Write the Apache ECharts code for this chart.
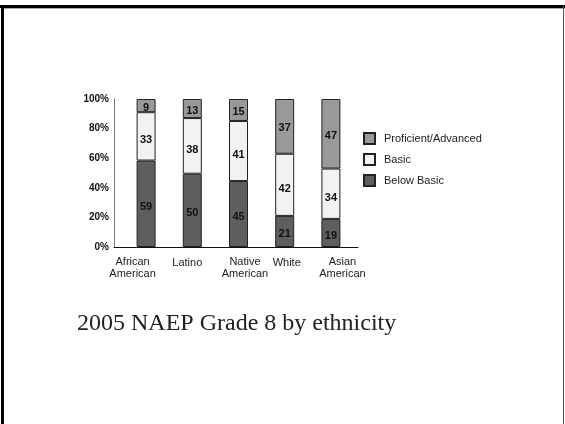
<!DOCTYPE html>
<html>
<head>
<meta charset="utf-8">
<script src="https://cdn.jsdelivr.net/npm/echarts@6/dist/echarts.min.js"></script>
<style>html,body{margin:0;padding:0;background:#fff}#c{width:565px;height:424px}</style>
</head>
<body>
<div id="c"></div>
<script>
var categories = ['African\nAmerican', 'Latino', 'Native\nAmerican', 'White', 'Asian\nAmerican'];
var belowBasic = [59, 50, 45, 21, 19];
var basic = [33, 38, 41, 42, 34];
var proficient = [9, 13, 15, 37, 47];
var yTicks = [0, 20, 40, 60, 80, 100];
var titleText = '2005 NAEP Grade 8 by ethnicity';

var totals = categories.map(function (c, i) { return belowBasic[i] + basic[i] + proficient[i]; });
function norm(arr) { return arr.map(function (v, i) { return v / totals[i] * 100; }); }

var labelShift = [[0, 27, 0, 0], [2, 10, 0, 0], [0, 0, 0, 13], [2, 0, 0, 4], [0, 0, 0, 23]];
var rich = {};
labelShift.forEach(function (p, i) {
  rich['s' + i] = { padding: p, fontSize: 11, lineHeight: 12, color: '#222', fontFamily: 'Liberation Sans, Arial, sans-serif' };
});

function segLabel(raw, dy) {
  return {
    show: true, position: 'inside', offset: [0, dy], color: '#111', fontWeight: 'bold', fontSize: 11,
    fontFamily: 'Liberation Sans, Arial, sans-serif',
    formatter: function (p) { return raw[p.dataIndex]; }
  };
}

var chart = echarts.init(document.getElementById('c'), null, { renderer: 'canvas' });
chart.setOption({
  animation: false,
  backgroundColor: '#fff',
  grid: [
    { left: 123, right: 211, top: 99, bottom: 177 },
    { left: 114, right: 207, top: 99, bottom: 177 }
  ],
  xAxis: [
    {
      type: 'category', gridIndex: 0, data: categories,
      axisLine: { show: false }, axisTick: { show: false },
      axisLabel: {
        margin: 9, interval: 0,
        formatter: function (v, i) {
          return v.split('\n').map(function (l) { return '{s' + i + '|' + l + '}'; }).join('\n');
        },
        rich: rich
      }
    },
    {
      type: 'value', gridIndex: 1, min: 0, max: 1,
      axisLine: { show: true, onZero: false, lineStyle: { color: '#111', width: 1 } },
      axisTick: { show: false }, axisLabel: { show: false }, splitLine: { show: false }
    }
  ],
  yAxis: [
    { type: 'value', gridIndex: 0, min: 0, max: 100, show: false, splitLine: { show: false } },
    {
      type: 'value', gridIndex: 1, min: 0, max: 100, interval: 20,
      axisLine: { show: true, lineStyle: { color: '#777', width: 1 } },
      axisTick: { show: false }, splitLine: { show: false },
      axisLabel: {
        margin: 5, color: '#111', fontWeight: 'bold', fontSize: 10,
        fontFamily: 'Liberation Sans, Arial, sans-serif',
        customValues: yTicks,
        formatter: '{value}%'
      }
    }
  ],
  legend: {
    orient: 'vertical', left: 358, top: 127, itemWidth: 11, itemHeight: 11, itemGap: 8,
    icon: 'rect',
    data: ['Proficient/Advanced', 'Basic', 'Below Basic'],
    textStyle: { fontSize: 11, color: '#222', padding: [0, 0, 0, 4], fontFamily: 'Liberation Sans, Arial, sans-serif' }
  },
  series: [
    {
      name: 'Below Basic', type: 'bar', stack: 's', barWidth: 19, data: norm(belowBasic),
      itemStyle: { color: '#5e5e5e', borderColor: '#222', borderWidth: 1 }, label: segLabel(belowBasic, 3)
    },
    {
      name: 'Basic', type: 'bar', stack: 's', barWidth: 19, data: norm(basic),
      itemStyle: { color: '#f2f2f2', borderColor: '#222', borderWidth: 1 }, label: segLabel(basic, 4)
    },
    {
      name: 'Proficient/Advanced', type: 'bar', stack: 's', barWidth: 19, data: norm(proficient),
      itemStyle: { color: '#999999', borderColor: '#222', borderWidth: 1 }, label: segLabel(proficient, 2)
    }
  ],
  graphic: [
    { type: 'rect', shape: { x: 0, y: 5, width: 565, height: 3 }, style: { fill: '#000' } },
    { type: 'rect', shape: { x: 4, y: 8, width: 561, height: 1 }, style: { fill: '#aaa' } },
    { type: 'rect', shape: { x: 1, y: 5, width: 3, height: 419 }, style: { fill: '#000' } },
    { type: 'rect', shape: { x: 563, y: 5, width: 1, height: 419 }, style: { fill: '#555' } },
    {
      type: 'text', left: 77, top: 312,
      style: { text: titleText, fill: '#222', font: '24px "Liberation Serif", "Times New Roman", serif' }
    }
  ]
});
</script>
</body>
</html>
